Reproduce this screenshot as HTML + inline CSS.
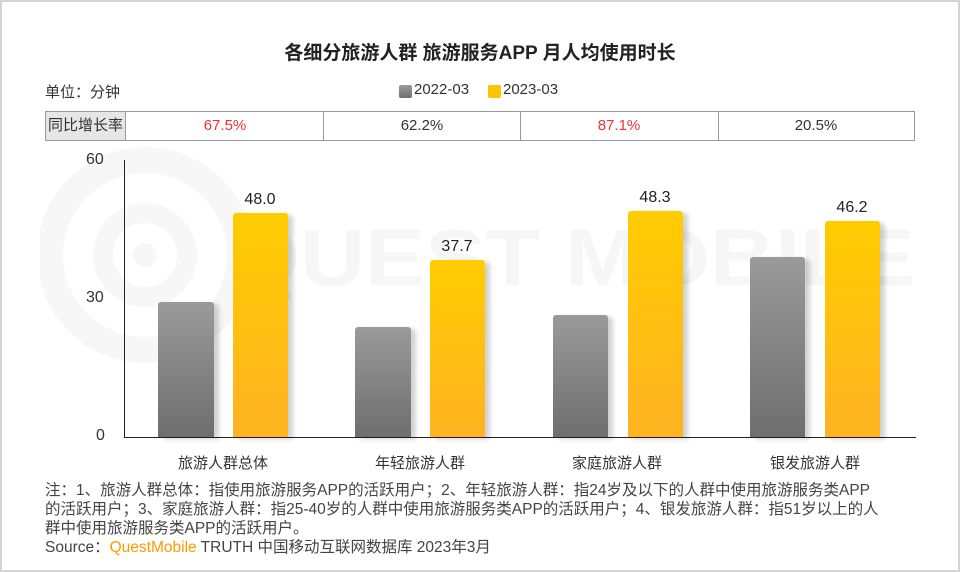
<!DOCTYPE html>
<html><head><meta charset="utf-8"><style>
*{margin:0;padding:0;box-sizing:border-box}
body{width:960px;height:572px;background:#fff;position:relative;overflow:hidden;font-family:"Liberation Sans","Noto Sans CJK SC",sans-serif;color:#333}
.a{position:absolute;white-space:nowrap}
.frame{position:absolute;left:0;top:0;width:960px;height:572px;border:2px solid #d4d4d4}
.g{background:linear-gradient(#9a9a9a,#6e6e6e);border-radius:3px 3px 0 0;box-shadow:5px 2px 5px rgba(0,0,0,.18)}
.y{background:linear-gradient(#ffcc00,#ffb322);border-radius:3px 3px 0 0;box-shadow:5px 2px 5px rgba(0,0,0,.18)}
.v{font-size:16px;color:#222;text-align:center;width:80px}
.c{font-size:15px;text-align:center;width:110px}
</style></head><body>
<div class="frame"></div>
<svg class="a" style="left:40px;top:140px" width="900" height="300">
<circle cx="105" cy="115" r="95" fill="none" stroke="#f7f7f7" stroke-width="26"/>
<circle cx="105" cy="115" r="42" fill="none" stroke="#f7f7f7" stroke-width="20"/>
<circle cx="105" cy="115" r="12" fill="#f7f7f7"/>
<text x="190" y="145" font-size="80" font-weight="bold" fill="#f6f6f6" font-family="Liberation Sans" textLength="685" lengthAdjust="spacingAndGlyphs">QUEST MOBILE</text>
</svg>
<div class="a" style="left:0;width:960px;top:38px;text-align:center;font-size:19px;font-weight:bold;color:#222">各细分旅游人群 旅游服务APP 月人均使用时长</div>
<div class="a" style="left:45px;top:81px;font-size:15px">单位：分钟</div>
<div class="a" style="left:399px;top:85px;width:13px;height:13px;border-radius:2px;background:linear-gradient(#9a9a9a,#707070)"></div>
<div class="a" style="left:414px;top:81px;font-size:15px">2022-03</div>
<div class="a" style="left:488px;top:85px;width:13px;height:13px;border-radius:2px;background:#ffc400"></div>
<div class="a" style="left:503px;top:81px;font-size:15px">2023-03</div>
<div class="a" style="left:45px;top:111px;width:870px;height:30px;border:1px solid #999"></div>
<div class="a" style="left:45px;top:111px;width:81px;height:30px;border:1px solid #999;background:#e6e6e6;font-size:15px;line-height:28px;text-align:center">同比增长率</div>
<div class="a" style="left:323px;top:111px;width:1px;height:30px;background:#999"></div>
<div class="a" style="left:520px;top:111px;width:1px;height:30px;background:#999"></div>
<div class="a" style="left:718px;top:111px;width:1px;height:30px;background:#999"></div>
<div class="a c" style="left:170px;top:117px;color:#f03030">67.5%</div>
<div class="a c" style="left:367px;top:117px">62.2%</div>
<div class="a c" style="left:564px;top:117px;color:#f03030">87.1%</div>
<div class="a c" style="left:761px;top:117px">20.5%</div>
<div class="a" style="left:86px;top:151px;font-size:16px">60</div>
<div class="a" style="left:86px;top:289px;font-size:16px">30</div>
<div class="a" style="left:96px;top:427px;font-size:16px">0</div>
<div class="a" style="left:124px;top:160px;width:1px;height:278px;background:#222"></div>
<div class="a" style="left:124px;top:437px;width:792px;height:1px;background:#222"></div>
<div class="a g" style="left:158px;top:302px;width:56px;height:135px"></div>
<div class="a y" style="left:233px;top:213px;width:55px;height:224px"></div>
<div class="a v" style="left:220px;top:191px">48.0</div>
<div class="a g" style="left:355px;top:327px;width:56px;height:110px"></div>
<div class="a y" style="left:430px;top:260px;width:55px;height:177px"></div>
<div class="a v" style="left:417px;top:238px">37.7</div>
<div class="a g" style="left:553px;top:315px;width:55px;height:122px"></div>
<div class="a y" style="left:628px;top:211px;width:55px;height:226px"></div>
<div class="a v" style="left:615px;top:189px">48.3</div>
<div class="a g" style="left:750px;top:257px;width:55px;height:180px"></div>
<div class="a y" style="left:825px;top:221px;width:55px;height:216px"></div>
<div class="a v" style="left:812px;top:199px">46.2</div>
<div class="a" style="left:123px;width:200px;top:452px;text-align:center;font-size:15px">旅游人群总体</div>
<div class="a" style="left:320px;width:200px;top:452px;text-align:center;font-size:15px">年轻旅游人群</div>
<div class="a" style="left:517px;width:200px;top:452px;text-align:center;font-size:15px">家庭旅游人群</div>
<div class="a" style="left:715px;width:200px;top:452px;text-align:center;font-size:15px">银发旅游人群</div>
<div class="a" style="left:45px;top:481px;font-size:15.5px;line-height:19px;color:#444">注：1、旅游人群总体：指使用旅游服务APP的活跃用户；2、年轻旅游人群：指24岁及以下的人群中使用旅游服务类APP<br>的活跃用户；3、家庭旅游人群：指25-40岁的人群中使用旅游服务类APP的活跃用户；4、银发旅游人群：指51岁以上的人<br>群中使用旅游服务类APP的活跃用户。<br>Source：<span style="color:#ff9900">QuestMobile</span> TRUTH 中国移动互联网数据库 2023年3月</div>
</body></html>
